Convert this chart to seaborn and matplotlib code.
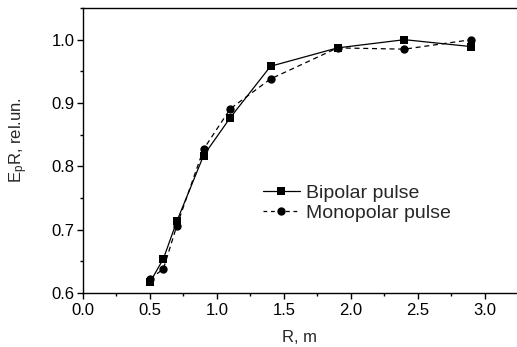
import matplotlib
matplotlib.use("Agg")
import matplotlib.pyplot as plt
import seaborn as sns
import pandas as pd
from matplotlib.ticker import MultipleLocator
from matplotlib.lines import Line2D

r_values = [0.5, 0.6, 0.7, 0.9, 1.1, 1.4, 1.9, 2.4, 2.9]
bipolar = [0.617, 0.654, 0.713, 0.817, 0.877, 0.958, 0.987, 1.000, 0.989]
monopolar = [0.622, 0.638, 0.706, 0.827, 0.891, 0.938, 0.987, 0.985, 1.000]
series_names = ["Bipolar pulse", "Monopolar pulse"]
x_ticks = [0.0, 0.5, 1.0, 1.5, 2.0, 2.5, 3.0]
y_ticks = [0.6, 0.7, 0.8, 0.9, 1.0]

sns.set_theme(style="ticks")
plt.rcParams['font.family'] = ['Liberation Sans', 'DejaVu Sans']
plt.rcParams['mathtext.default'] = 'regular'

df = pd.DataFrame({
    "R": r_values * 2,
    "E": bipolar + monopolar,
    "series": [series_names[0]] * len(r_values) + [series_names[1]] * len(r_values),
})

fig = plt.figure(figsize=(5.17, 3.47), dpi=100)
ax = fig.add_axes([83 / 517, 1 - 293 / 347, 1 - 83 / 517, (293 - 8) / 347])

sns.lineplot(data=df, x="R", y="E", hue="series", style="series",
             palette=["black", "black"], markers=["s", "o"],
             dashes=[(None, None), (4, 3)], linewidth=0.9, markersize=6,
             markeredgewidth=0, ax=ax, legend=False)

handles = [
    Line2D([], [], color="black", lw=0.9, marker="s", markersize=6, markeredgewidth=0),
    Line2D([], [], color="black", lw=0.9, ls=(0, (3, 3)), marker="o", markersize=6, markeredgewidth=0),
]
fig.legend(handles, series_names, loc="center left",
           bbox_to_anchor=(263 / 517, 1 - 203 / 347), bbox_transform=fig.transFigure,
           frameon=False, fontsize=14, handlelength=1.9, handletextpad=0.3,
           labelspacing=0.1, borderpad=0, borderaxespad=0)

ax.set_xlim(0, 3.24)
ax.set_ylim(0.6, 1.05)
ax.set_xticks(x_ticks)
ax.set_yticks(y_ticks)
ax.set_xticklabels([f"{v:.1f}" for v in x_ticks])
ax.set_yticklabels([f"{v:.1f}" for v in y_ticks])
ax.xaxis.set_minor_locator(MultipleLocator(0.25))
ax.yaxis.set_minor_locator(MultipleLocator(0.05))
ax.tick_params(which="major", direction="out", length=4, width=1, labelsize=12, colors="black")
ax.tick_params(axis="x", which="major", pad=3)
ax.tick_params(axis="y", which="major", pad=2)
ax.tick_params(which="minor", direction="out", length=2.5, width=1, colors="black")
ax.tick_params(top=False, right=False)

for s in ["left", "bottom", "top"]:
    ax.spines[s].set_visible(True)
    ax.spines[s].set_color("black")
    ax.spines[s].set_linewidth(1.0)
ax.spines["right"].set_visible(False)

ax.set_xlabel("R, m", fontsize=12)
ax.set_ylabel(r"E$_p$R, rel.un.", fontsize=12)
ax.xaxis.set_label_coords(0.5, -0.13)
ax.yaxis.set_label_coords(-0.122, 0.537)

fig.savefig("out.png", dpi=100)
